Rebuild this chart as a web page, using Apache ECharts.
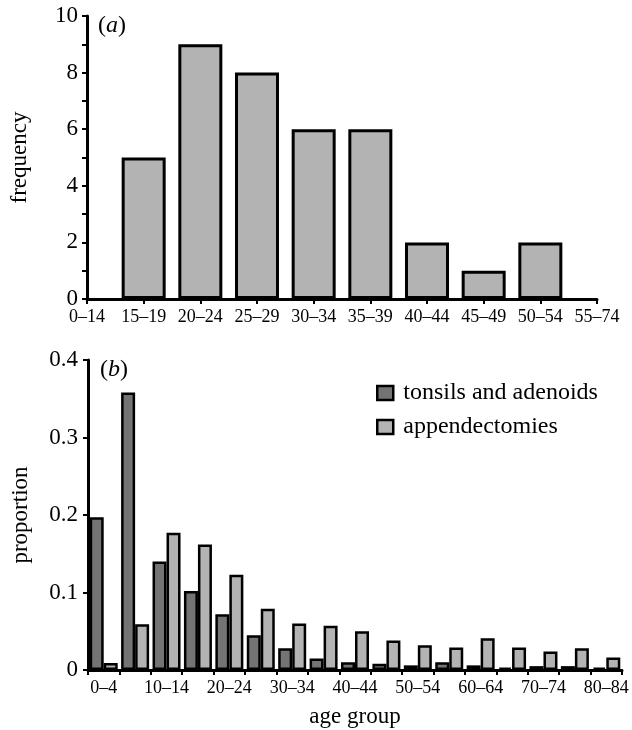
<!DOCTYPE html>
<html>
<head>
<meta charset="utf-8">
<script src="https://cdn.jsdelivr.net/npm/echarts@6/dist/echarts.min.js"></script>
<style>
html,body{margin:0;padding:0;background:#fff;}
#chart{width:632px;height:730px;}
</style>
</head>
<body>
<div id="chart"></div>
<script>
// ---- data ----
const topCategories = ['0–14','15–19','20–24','25–29','30–34','35–39','40–44','45–49','50–54','55–74'];
const topFrequency = [0, 5, 9, 8, 6, 6, 2, 1, 2, 0];

const bottomCategories = ['0–4','5–9','10–14','15–19','20–24','25–29','30–34','35–39','40–44',
  '45–49','50–54','55–59','60–64','65–69','70–74','75–79','80–84'];
const tonsils = [0.197,0.358,0.140,0.102,0.072,0.045,0.028,0.015,0.010,0.008,0.006,0.010,0.006,0.003,0.005,0.005,0.003];
const appendectomies = [0.009,0.059,0.177,0.162,0.123,0.079,0.060,0.057,0.050,0.038,0.032,0.029,0.041,0.029,0.024,0.028,0.016];

const topYTicks = {min: 0, max: 10, step: 2};
const bottomYTicks = {min: 0, max: 0.4, step: 0.1};

// ---- style ----
const FONT = "'Liberation Serif','Times New Roman',serif";
const LIGHT = '#b3b3b3';
const DARK = '#747474';
const axisLine = {show: true, lineStyle: {color: '#000', width: 3}};
const tick = {show: true, inside: false, length: 5, lineStyle: {color: '#000', width: 2}};

const chart = echarts.init(document.getElementById('chart'), null, {renderer: 'canvas'});

chart.setOption({
  animation: false,
  backgroundColor: '#fff',
  textStyle: {fontFamily: FONT, color: '#000'},
  grid: [
    {left: 85, top: 16, width: 512, height: 283},
    {left: 88, top: 360, width: 534, height: 310}
  ],
  xAxis: [
    {
      gridIndex: 0, type: 'category', data: topCategories, boundaryGap: false,
      axisLine: axisLine, axisTick: Object.assign({interval: 0}, tick),
      axisLabel: {interval: 0, fontSize: 18, fontFamily: FONT, color: '#000', margin: 9},
      splitLine: {show: false}
    },
    {
      gridIndex: 1, type: 'category', data: bottomCategories, boundaryGap: true,
      axisLine: axisLine, axisTick: Object.assign({interval: 0}, tick),
      axisLabel: {interval: 1, fontSize: 18, fontFamily: FONT, color: '#000', margin: 9},
      splitLine: {show: false},
      name: 'age group', nameLocation: 'middle', nameGap: 35,
      nameTextStyle: {fontSize: 23, fontFamily: FONT, color: '#000'}
    }
  ],
  yAxis: [
    {
      gridIndex: 0, type: 'value', min: topYTicks.min, max: topYTicks.max, interval: topYTicks.step,
      axisLine: axisLine, axisTick: tick,
      minorTick: {show: true, splitNumber: 2, length: 5, lineStyle: {color: '#000', width: 2}},
      minorSplitLine: {show: false},
      axisLabel: {fontSize: 23, fontFamily: FONT, color: '#000', margin: 9},
      splitLine: {show: false},
      name: 'frequency', nameLocation: 'middle', nameGap: 56, nameRotate: 90,
      nameTextStyle: {fontSize: 23, fontFamily: FONT, color: '#000'}
    },
    {
      gridIndex: 1, type: 'value', min: bottomYTicks.min, max: bottomYTicks.max, interval: bottomYTicks.step,
      axisLine: axisLine, axisTick: tick,
      axisLabel: {fontSize: 23, fontFamily: FONT, color: '#000', margin: 10},
      splitLine: {show: false},
      name: 'proportion', nameLocation: 'middle', nameGap: 56, nameRotate: 90,
      nameTextStyle: {fontSize: 23, fontFamily: FONT, color: '#000'}
    }
  ],
  legend: {
    orient: 'vertical', left: 376, top: 381, padding: 0, itemWidth: 16, itemHeight: 14, itemGap: 10,
    icon: 'rect',
    itemStyle: {borderColor: '#000', borderWidth: 2.5},
    textStyle: {fontSize: 24, fontFamily: FONT, color: '#000', lineHeight: 24, padding: [0, 0, 0, 5]},
    data: ['tonsils and adenoids', 'appendectomies']
  },
  graphic: [
    {type: 'text', left: 98, top: 14, style: {
      text: '{p|(}{i|a}{p|)}', rich: {
        p: {fontSize: 24, fontFamily: FONT, fill: '#000'},
        i: {fontSize: 24, fontFamily: FONT, fontStyle: 'italic', fill: '#000'}
      }}},
    {type: 'text', left: 100, top: 358, style: {
      text: '{p|(}{i|b}{p|)}', rich: {
        p: {fontSize: 24, fontFamily: FONT, fill: '#000'},
        i: {fontSize: 24, fontFamily: FONT, fontStyle: 'italic', fill: '#000'}
      }}}
  ],
  series: [
    {
      type: 'bar', xAxisIndex: 0, yAxisIndex: 0, barWidth: 44,
      data: topFrequency.map(v => v === 0 ? '-' : v),
      itemStyle: {color: LIGHT, borderColor: '#000', borderWidth: 3}
    },
    {
      name: 'tonsils and adenoids', type: 'bar', xAxisIndex: 1, yAxisIndex: 1,
      barWidth: 14, barGap: '0%', data: tonsils,
      itemStyle: {color: DARK, borderColor: '#000', borderWidth: 2.5}
    },
    {
      name: 'appendectomies', type: 'bar', xAxisIndex: 1, yAxisIndex: 1,
      barWidth: 14, barGap: '0%', data: appendectomies,
      itemStyle: {color: LIGHT, borderColor: '#000', borderWidth: 2.5}
    }
  ]
});
</script>
</body>
</html>
